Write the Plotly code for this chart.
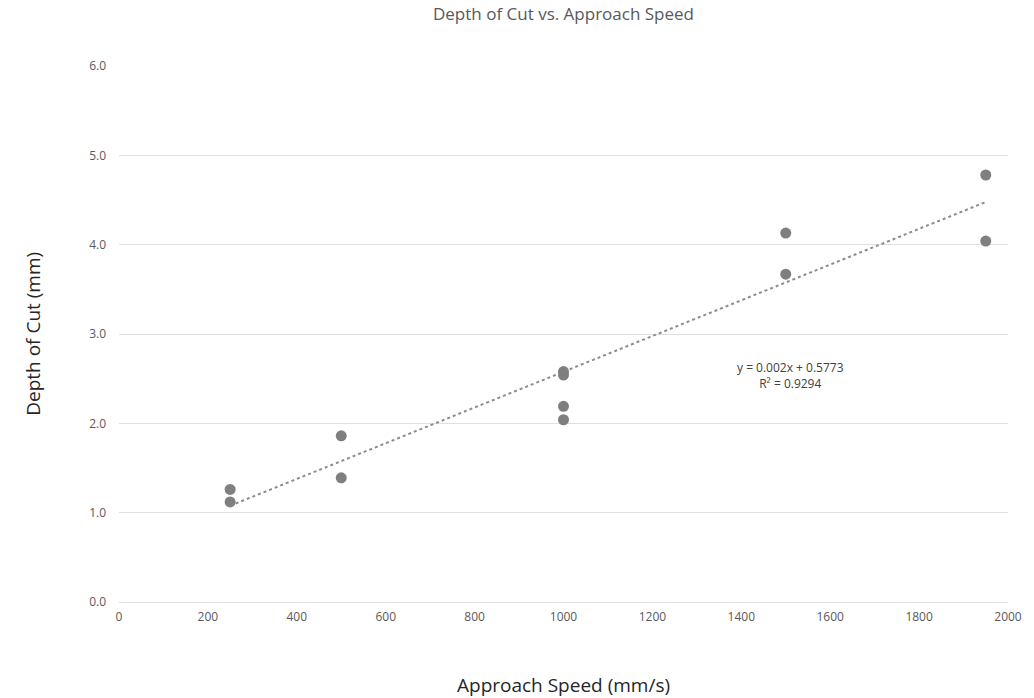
import plotly.graph_objects as go

speed = [250, 250, 500, 500, 1000, 1000, 1000, 1000, 1500, 1500, 1950, 1950]
depth = [1.26, 1.12, 1.86, 1.39, 2.58, 2.54, 2.19, 2.04, 4.13, 3.67, 4.78, 4.04]
slope = 0.002
intercept = 0.5773
r2_label = "0.9294"
x_ticks = list(range(0, 2001, 200))
y_ticks = [0, 1, 2, 3, 4, 5, 6]

trend_x = [min(speed), max(speed)]
trend_y = [slope * v + intercept for v in trend_x]

fig = go.Figure()
fig.add_trace(go.Scatter(x=trend_x, y=trend_y, mode="lines",
                         line=dict(color="#8c8c8c", width=2, dash="dot"),
                         hoverinfo="skip", showlegend=False))
fig.add_trace(go.Scatter(x=speed, y=depth, mode="markers",
                         marker=dict(color="#7f7f7f", size=11),
                         showlegend=False))

fig.update_layout(
    width=1034, height=698,
    margin=dict(l=119, r=20, t=66, b=96),
    paper_bgcolor="white", plot_bgcolor="white",
    font=dict(family="Open Sans", color="#595959"),
    title=dict(text="Depth of Cut vs. Approach Speed", x=0.5, xanchor="center",
               xref="paper", y=1 - 14 / 698, yanchor="middle",
               font=dict(size=17, color="#595959", family="Open Sans")),
    xaxis=dict(range=[0, 2000], tickvals=x_ticks, showgrid=False, zeroline=False,
               showline=False, ticks="", tickfont=dict(size=12, color="#595959"),
               fixedrange=True),
    yaxis=dict(range=[0, 6], tickvals=y_ticks, tickformat=".1f", showgrid=True,
               gridcolor="#e0e0e0", gridwidth=1, zeroline=True, zerolinecolor="#e0e0e0",
               zerolinewidth=1, showline=False, ticks="", ticklen=0,
               tickfont=dict(size=12, color="#595959"), fixedrange=True),
    annotations=[
        dict(text="Approach Speed (mm/s)", xref="paper", yref="paper", x=0.5, y=-0.155,
             xanchor="center", yanchor="middle", showarrow=False,
             font=dict(size=19, color="#262626", family="Open Sans")),
        dict(text="Depth of Cut (mm)", xref="paper", yref="paper", x=-0.097, y=0.5,
             xanchor="center", yanchor="middle", showarrow=False, textangle=-90,
             font=dict(size=19, color="#262626", family="Open Sans")),
        dict(text=f"y = {slope}x + {intercept}<br>R² = {r2_label}", xref="x", yref="y",
             x=1510, y=2.53, xanchor="center", yanchor="middle", showarrow=False,
             align="center", font=dict(size=12, color="#404040", family="Open Sans")),
    ],
)
fig.update_yaxes(ticklabelstandoff=12)
fig.update_xaxes(ticklabelstandoff=6)
fig.write_html("out.html", config={"displayModeBar": False},
               post_script="document.body.style.margin='0';document.body.style.padding='0';")
